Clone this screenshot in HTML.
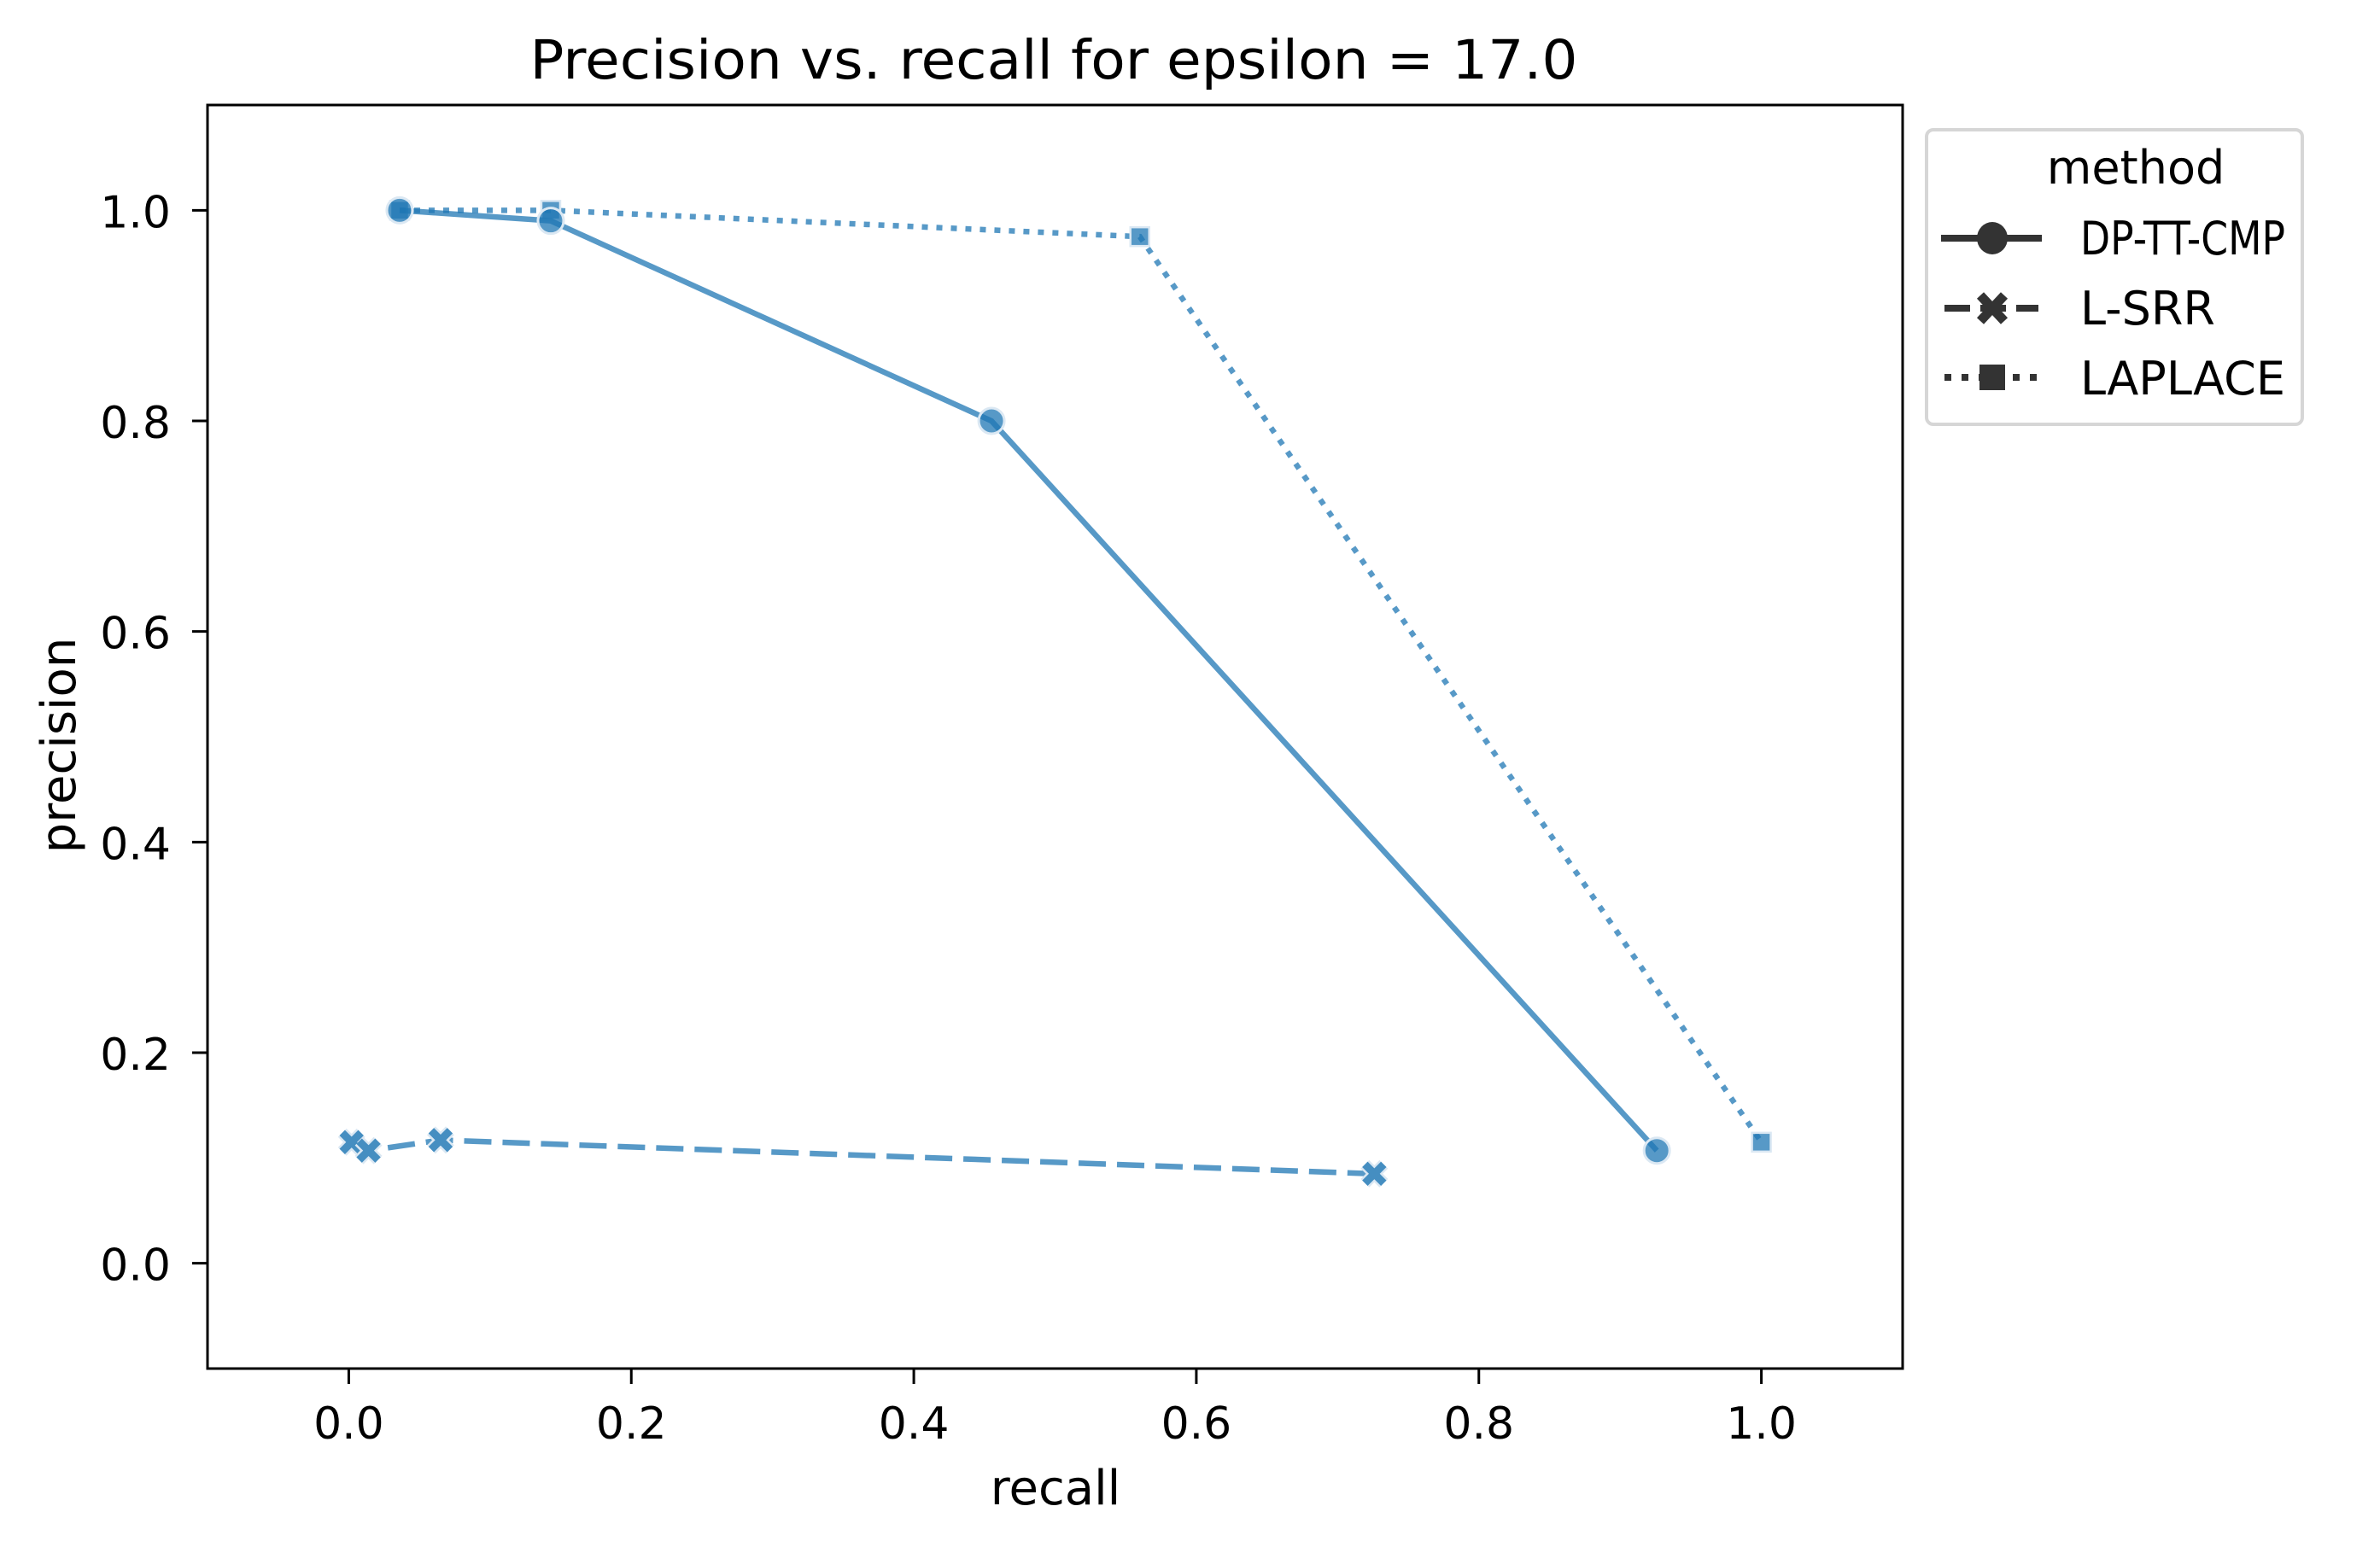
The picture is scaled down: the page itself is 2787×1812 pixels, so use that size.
<!DOCTYPE html>
<html><head><meta charset="utf-8"><style>
html,body{margin:0;padding:0;background:#fff;}
svg{display:block;font-family:"DejaVu Sans","Liberation Sans",sans-serif;}
</style></head><body>
<svg id="chart" width="2787" height="1812" viewBox="0 0 2787 1812" xmlns="http://www.w3.org/2000/svg">
<rect width="2787" height="1812" fill="#fff"/>
<text x="1234" y="92" font-size="63" text-anchor="middle" textLength="1227" lengthAdjust="spacingAndGlyphs" fill="#000">Precision vs. recall for epsilon = 17.0</text>
<g id="grid"></g>
<g id="marks"></g>
<rect x="243" y="123" width="1985" height="1480" fill="none" stroke="#000" stroke-width="3"/>
<text x="1236" y="1762" font-size="56" text-anchor="middle">recall</text>
<text transform="translate(88,873) rotate(-90)" font-size="56" text-anchor="middle">precision</text>
<g>
<rect x="2256" y="152" width="440" height="345" rx="8" fill="#fff" stroke="#d6d6d6" stroke-width="4"/>
<text x="2501" y="215" font-size="54" text-anchor="middle">method</text>
<g>
<line x1="2273" y1="279" x2="2391" y2="279" stroke="#333" stroke-width="8"/>
<ellipse cx="2333" cy="279" rx="18" ry="19" fill="#333"/>
<text x="2436" y="298" font-size="54" textLength="240" lengthAdjust="spacingAndGlyphs">DP-TT-CMP</text></g>
<g>
<line x1="2277" y1="361" x2="2387" y2="361" stroke="#333" stroke-width="8" stroke-dasharray="30,12"/>
<path d="M2319,346L2347,376M2347,346L2319,376" stroke="#333" stroke-width="11"/>
<text x="2436" y="380" font-size="54">L-SRR</text></g>
<g>
<line x1="2277" y1="442" x2="2387" y2="442" stroke="#333" stroke-width="8" stroke-dasharray="8,12"/>
<rect x="2318" y="427" width="30" height="30" fill="#333"/>
<text x="2436" y="462" font-size="54">LAPLACE</text></g>
</g>
</svg>
<script>
const xTicks=[0.0,0.2,0.4,0.6,0.8,1.0];
const yTicks=[0.0,0.2,0.4,0.6,0.8,1.0];
const xTickLabels=["0.0","0.2","0.4","0.6","0.8","1.0"];
const yTickLabels=["0.0","0.2","0.4","0.6","0.8","1.0"];
const dpRecall=[0.036,0.143,0.455,0.926];
const dpPrecision=[1.0,0.99,0.80,0.107];
const lsrrRecall=[0.002,0.014,0.065,0.726];
const lsrrPrecision=[0.115,0.107,0.117,0.085];
const lapRecall=[0.036,0.143,0.56,1.0];
const lapPrecision=[1.0,1.0,0.975,0.115];

const NS="http://www.w3.org/2000/svg";
const L=243,R=2228,T=123,B=1603;
function sx(v){return L+(v+0.1)/1.2*(R-L);}
function sy(v){return B-(v+0.1)/1.2*(B-T);}
const g=document.getElementById('grid'),m=document.getElementById('marks');
function mk(tag,attrs,parent){const e=document.createElementNS(NS,tag);for(const k in attrs)e.setAttribute(k,attrs[k]);parent.appendChild(e);return e;}
xTicks.forEach((v,i)=>{
  const t=mk('line',{x1:sx(v),x2:sx(v),y1:B,y2:B+18,stroke:'#000','stroke-width':3},g);
  
  
  const l=mk('text',{x:sx(v),y:B+82,'font-size':52,'text-anchor':'middle'},g);
  l.textContent=xTickLabels[i];
  
  
});
yTicks.forEach((v,i)=>{
  const t=mk('line',{x1:L-18,x2:L,y1:sy(v),y2:sy(v),stroke:'#000','stroke-width':3},g);
  
  
  const l=mk('text',{x:200,y:sy(v)+20,'font-size':52,'text-anchor':'end'},g);
  l.textContent=yTickLabels[i];
  
  
});
const C='#1f77b4';
function series(xs,ys,dash,name,marker){
  const pts=xs.map((x,i)=>sx(x)+','+sy(ys[i])).join(' ');
  const p=mk('polyline',{points:pts,fill:'none',stroke:C,'stroke-opacity':0.75,'stroke-width':6.5},m);
  if(dash)p.setAttribute('stroke-dasharray',dash);
  
  
  xs.forEach((x,i)=>{
    const cx=sx(x),cy=sy(ys[i]);let e;
    if(marker==='o')e=mk('circle',{cx:cx,cy:cy,r:15,fill:C,'fill-opacity':0.75,stroke:'#dbe8f3','stroke-width':3},m);
    else if(marker==='s')e=mk('rect',{x:cx-11,y:cy-11,width:22,height:22,fill:C,'fill-opacity':0.75,stroke:'#dbe8f3','stroke-width':2.5},m);
    else{
      const o=mk('path',{d:`M${cx-11},${cy-11}L${cx+11},${cy+11}M${cx+11},${cy-11}L${cx-11},${cy+11}`,stroke:'#dbe8f3','stroke-width':14},m);
      
      
      e=mk('path',{d:`M${cx-11},${cy-11}L${cx+11},${cy+11}M${cx+11},${cy-11}L${cx-11},${cy+11}`,stroke:C,'stroke-opacity':0.8,'stroke-width':9},m);
    }
    
    
  });
}
series(lapRecall,lapPrecision,'7,10','laplace','s');
series(dpRecall,dpPrecision,null,'dp-tt-cmp','o');
series(lsrrRecall,lsrrPrecision,'32,13','l-srr','x');
</script>
</body></html>
